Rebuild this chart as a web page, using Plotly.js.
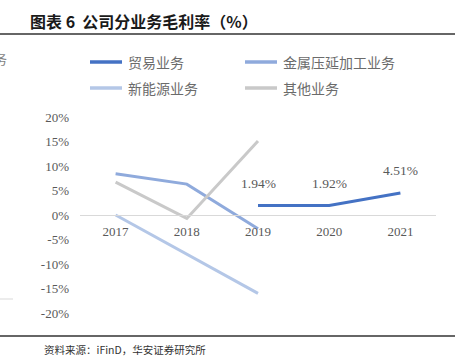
<!DOCTYPE html>
<html>
<head>
<meta charset="utf-8">
<script src="https://cdn.plot.ly/plotly-3.0.1.min.js"></script>
<style>html,body{margin:0;padding:0;background:#fff;}#chart{width:463px;height:356px;}</style>
</head>
<body>
<div id="chart"></div>
<script>
var years = ['2017', '2018', '2019', '2020', '2021'];
var trade = [null, null, 1.94, 1.92, 4.51];
var metal = [8.4, 6.3, -2.8, null, null];
var newEnergy = [0, -8.0, -16.0, null, null];
var other = [6.7, -0.7, 15.1, null, null];
var yTicks = [-20, -15, -10, -5, 0, 5, 10, 15, 20];
var yTickText = ['-20%', '-15%', '-10%', '-5%', '0%', '5%', '10%', '15%', '20%'];
var names = ['贸易业务', '金属压延加工业务', '新能源业务', '其他业务'];
var colors = ['#4472C4', '#8FAADC', '#B4C7E7', '#C9C9C9'];

var W = 463, H = 356, L = 80, R = 27, T = 117, B = 43;
var pw = W - L - R, ph = H - T - B;
function px(x) { return (x - L) / pw; }
function py(y) { return (H - B - y) / ph; }

var series = [trade, metal, newEnergy, other];
var traces = series.map(function (s, i) {
  return {
    x: years, y: s, name: names[i], type: 'scatter', mode: 'lines',
    line: {color: colors[i], width: 3}, connectgaps: false, hoverinfo: 'skip', showlegend: false
  };
});

var tickFont = {family: 'Liberation Serif', size: 13, color: '#595959'};
var labelFont = {family: 'Liberation Serif', size: 13.5, color: '#595959'};
var annotations = [];
var shapes = [];
years.forEach(function (yr, i) {
  if (trade[i] !== null) {
    annotations.push({x: i, y: trade[i], xref: 'x', yref: 'y', text: trade[i].toFixed(2) + '%',
      showarrow: false, yshift: 22, font: labelFont});
  }
});

// legend (2 x 2 grid)
var legX = [90, 245], legY = [62, 88];
names.forEach(function (nm, i) {
  var cx = legX[i % 2], cy = legY[Math.floor(i / 2)];
  shapes.push({type: 'line', xref: 'paper', yref: 'paper', x0: px(cx), x1: px(cx + 32),
    y0: py(cy), y1: py(cy), line: {color: colors[i], width: 3.5}});
  annotations.push({x: px(cx + 36), y: py(cy), xref: 'paper', yref: 'paper', xanchor: 'left',
    yanchor: 'middle', text: nm, showarrow: false,
    font: {family: 'Noto Sans CJK SC', size: 14, color: '#6b6b6b'}});
});

annotations.push({x: px(9), y: py(58), xref: 'paper', yref: 'paper', xanchor: 'right', yanchor: 'middle',
  text: '务', showarrow: false, font: {family: 'Noto Sans CJK SC', size: 13, color: '#7f7f7f'}});
annotations.push({x: px(43), y: py(349), xref: 'paper', yref: 'paper', xanchor: 'left', yanchor: 'middle',
  text: '资料来源：iFinD，华安证券研究所', showarrow: false, borderpad: 0,
  font: {family: 'Noto Sans CJK SC', size: 10.5, color: '#333333'}});

shapes.push({type: 'line', xref: 'paper', yref: 'paper', x0: px(0), x1: px(455), y0: py(34), y1: py(34),
  line: {color: '#333333', width: 1.5}});
shapes.push({type: 'line', xref: 'paper', yref: 'paper', x0: px(0), x1: px(455), y0: py(336), y1: py(336),
  line: {color: '#333333', width: 1.5}});
shapes.push({type: 'line', xref: 'paper', yref: 'paper', x0: px(0), x1: px(13), y0: py(299), y1: py(299),
  line: {color: '#D9D9D9', width: 1}});

var layout = {
  width: W, height: H,
  margin: {l: L, r: R, t: T, b: B, pad: 0},
  paper_bgcolor: '#ffffff', plot_bgcolor: '#ffffff',
  title: {text: '<b>图表 6  公司分业务毛利率（%）</b>', x: 30 / W, xanchor: 'left', xref: 'container',
    y: 1 - 22 / H, yanchor: 'middle', yref: 'container',
    font: {family: 'Noto Sans CJK SC', size: 16, color: '#1a1a1a'}},
  showlegend: false,
  xaxis: {type: 'category', categoryorder: 'array', categoryarray: years,
    anchor: 'free', position: 0.5, showline: true, linecolor: '#D9D9D9', linewidth: 1,
    showgrid: false, zeroline: false, ticks: '', tickfont: tickFont, ticklabelstandoff: 4,
    range: [-0.5, 4.5], fixedrange: true},
  yaxis: {range: [-20, 20], tickvals: yTicks, ticktext: yTickText, showgrid: false,
    zeroline: false, showline: false, ticks: '', tickfont: tickFont, ticklabelstandoff: 10,
    fixedrange: true},
  shapes: shapes,
  annotations: annotations
};

Plotly.newPlot('chart', traces, layout, {staticPlot: true, displayModeBar: false});
</script>
</body>
</html>
